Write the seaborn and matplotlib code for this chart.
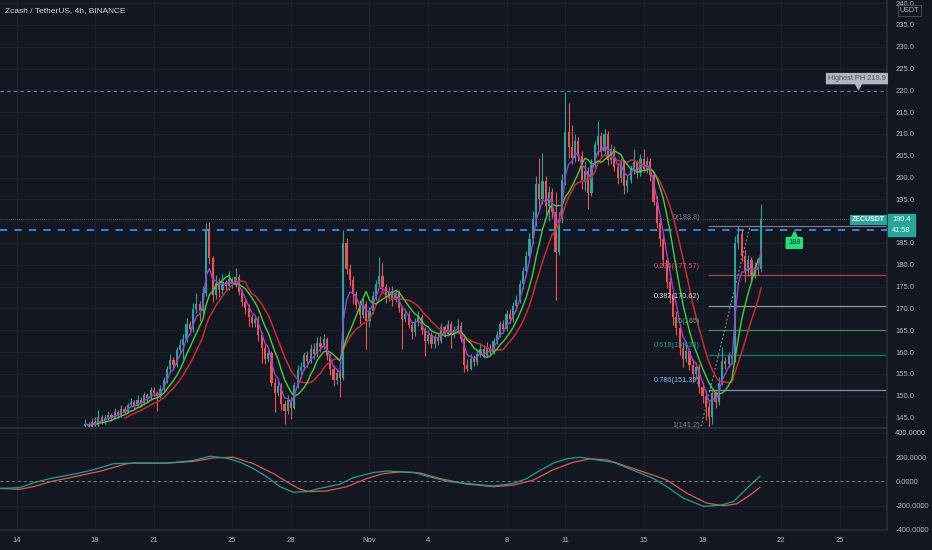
import numpy as np
import pandas as pd
import matplotlib.pyplot as plt
import seaborn as sns
from matplotlib.patches import Rectangle

# ---- chart data ----
title = "Zcash / TetherUS, 4h, BINANCE"
first_open = 143.0

# 4h closes, first bar = Oct 17 12:00
closes = [
    143.5, 142.8, 144.0, 143.2, 145.0, 144.1,
    144.8, 145.6, 144.9, 146.2, 145.5, 147.0,
    146.3, 147.8, 148.5, 147.6, 149.0, 148.2,
    150.1, 149.4, 151.2, 150.5, 149.8, 151.6,
    153.5, 156.0, 158.2, 157.0, 160.4, 161.5,
    163.0, 166.5, 165.2, 169.8, 171.0, 169.5,
    173.5, 188.0, 181.5, 173.0, 175.8, 174.2,
    176.0, 175.1, 176.8, 175.5, 177.2, 173.8,
    171.5, 170.2, 168.0, 166.6, 167.5, 164.0,
    161.0, 158.5, 159.8, 153.0, 150.6, 152.2,
    148.0, 146.5, 149.0, 147.2, 152.5, 155.8,
    156.5, 159.2, 158.0, 160.8, 159.5, 162.0,
    161.2, 163.0, 159.0, 156.0, 153.5, 155.2,
    154.0, 185.0, 179.0, 176.5, 173.2, 170.8,
    168.5, 171.0, 167.0, 169.5, 172.8, 175.5,
    177.5, 174.8, 172.5, 174.0, 172.0, 173.5,
    170.0, 167.5, 168.8, 166.2, 164.5, 166.8,
    168.0, 165.0, 162.5, 164.0, 161.8, 163.5,
    162.5, 165.8, 164.2, 166.5, 163.8, 165.0,
    166.0, 163.0, 157.0, 156.2, 158.5, 157.8,
    159.5, 160.8, 159.2, 161.0, 160.0, 162.5,
    164.0, 166.5, 165.2, 168.8, 167.5, 170.5,
    172.0, 175.5, 178.5, 182.0, 186.0, 190.5,
    198.5, 195.0, 199.2, 193.5, 196.8, 192.0,
    183.0, 190.5, 199.5, 210.5, 207.0, 204.5,
    208.5, 205.0, 199.0, 201.5, 196.5, 203.0,
    207.5, 209.5, 206.0, 210.0, 204.0, 206.5,
    202.5, 200.0, 203.5, 198.0, 199.5, 201.8,
    203.5, 201.0, 204.2, 202.0, 203.8, 200.5,
    194.5, 189.5, 186.0, 181.0, 176.0, 172.5,
    168.0, 165.5, 161.0, 158.5, 160.2, 157.0,
    155.0, 156.5, 152.0, 150.0, 147.5, 145.0,
    150.5, 148.5, 153.0, 158.0, 157.2, 159.0,
    158.5, 185.0, 187.0, 182.0, 178.5, 181.0,
    177.5, 179.5, 179.0, 190.4,
]
highs = [
    144.6, 144.0, 144.8, 145.2, 146.8, 145.6,
    145.5, 146.4, 146.0, 147.1, 146.8, 147.9,
    147.6, 148.4, 149.5, 149.0, 150.2, 149.6,
    150.9, 150.6, 152.0, 151.9, 151.0, 152.4,
    154.2, 156.8, 159.5, 158.9, 161.2, 163.0,
    164.2, 167.8, 167.0, 171.2, 173.5, 171.8,
    175.2, 189.6, 189.8, 182.0, 177.6, 177.0,
    177.8, 176.6, 178.5, 177.3, 179.3, 177.8,
    174.5, 172.4, 170.9, 168.8, 168.6, 168.2,
    164.6, 161.8, 160.5, 160.3, 154.0, 153.4,
    152.9, 149.0, 150.1, 149.6, 153.2, 157.0,
    157.6, 160.1, 160.2, 161.9, 162.0, 163.5,
    163.6, 164.2, 163.5, 159.6, 157.0, 156.0,
    156.1, 188.0, 186.2, 180.2, 177.4, 174.0,
    172.0, 172.3, 171.8, 170.4, 173.9, 176.6,
    181.9, 180.5, 175.6, 175.0, 175.2, 174.4,
    174.2, 170.6, 169.7, 169.5, 167.1, 167.9,
    169.4, 168.8, 165.7, 165.1, 164.6, 164.2,
    164.4, 166.7, 166.3, 167.4, 167.1, 165.9,
    167.5, 166.8, 163.6, 158.4, 159.6, 159.3,
    160.4, 161.9, 161.4, 162.3, 161.8, 163.1,
    164.9, 167.2, 167.4, 169.6, 169.9, 171.4,
    173.1, 176.4, 179.6, 183.1, 187.2, 192.4,
    200.4, 204.5, 205.6, 200.3, 198.0, 197.5,
    196.6, 192.2, 200.8, 219.6, 217.0, 212.0,
    210.1, 209.3, 206.2, 203.8, 202.4, 204.2,
    208.4, 213.0, 210.4, 211.2, 210.6, 207.6,
    207.2, 203.4, 204.6, 204.0, 200.6, 202.9,
    206.6, 204.1, 205.3, 206.5, 204.8, 204.6,
    201.2, 195.8, 190.7, 187.2, 182.0, 177.3,
    173.4, 169.3, 166.2, 162.3, 161.8, 161.0,
    158.3, 157.6, 157.2, 153.1, 151.2, 148.6,
    151.4, 151.0, 154.2, 161.2, 158.9, 160.1,
    160.3, 186.5, 188.8, 187.9, 183.4, 182.2,
    181.8, 180.6, 181.2, 194.0,
]
lows = [
    142.2, 141.8, 142.3, 142.7, 142.9, 143.6,
    143.6, 144.3, 144.2, 144.6, 144.9, 145.1,
    145.8, 146.0, 147.3, 147.0, 147.2, 147.5,
    147.9, 148.6, 149.0, 149.8, 146.5, 149.5,
    150.8, 153.0, 155.4, 155.9, 156.5, 159.7,
    158.5, 162.4, 164.1, 164.6, 168.9, 167.2,
    168.8, 172.9, 180.2, 171.5, 172.1, 172.5,
    173.4, 173.9, 174.2, 174.6, 174.8, 173.0,
    170.6, 168.8, 166.0, 165.8, 165.7, 162.5,
    157.5, 157.2, 157.8, 152.1, 146.2, 149.8,
    146.8, 143.5, 145.8, 144.6, 146.9, 151.7,
    154.0, 155.8, 156.6, 157.4, 158.4, 158.9,
    160.0, 160.6, 158.2, 154.8, 152.2, 152.6,
    149.7, 153.6, 177.9, 175.1, 171.0, 169.9,
    166.4, 167.9, 160.6, 165.8, 168.7, 171.9,
    174.6, 173.6, 171.2, 171.8, 170.6, 171.4,
    169.2, 160.6, 166.8, 165.4, 163.0, 163.6,
    165.9, 164.2, 159.0, 161.8, 160.9, 161.0,
    161.5, 162.0, 163.4, 163.6, 161.0, 163.2,
    164.3, 162.4, 155.4, 155.6, 155.8, 156.9,
    157.1, 158.9, 158.6, 158.8, 159.2, 159.6,
    161.8, 163.5, 164.3, 164.8, 166.6, 166.9,
    169.4, 171.2, 174.5, 177.6, 180.9, 184.8,
    189.0, 192.6, 194.0, 191.4, 190.0, 190.8,
    172.0, 182.2, 189.6, 198.4, 204.6, 203.2,
    203.6, 203.8, 197.4, 196.9, 192.8, 195.7,
    201.9, 205.1, 204.6, 205.0, 202.8, 203.1,
    201.4, 198.6, 199.1, 196.2, 196.8, 198.7,
    200.9, 199.8, 200.4, 201.2, 201.0, 199.2,
    193.6, 188.5, 184.4, 179.8, 174.6, 171.2,
    166.1, 163.8, 159.4, 156.6, 157.6, 155.9,
    153.2, 153.8, 150.6, 148.2, 144.4, 142.8,
    143.6, 147.2, 147.9, 152.4, 156.1, 156.6,
    157.3, 157.8, 183.6, 180.8, 176.1, 177.4,
    176.0, 176.9, 177.6, 178.4,
]

# lower pane oscillator (x in 4h bars from the first candle)
osc_fast_x = [-26.1, -20.0, -15.9, -10.8, -2.6, 2.5, 8.6, 14.7, 24.9, 33.1,
              38.2, 43.3, 47.4, 51.5, 55.6, 59.6, 63.7, 67.8, 71.9, 78.0,
              82.1, 88.2, 92.3, 96.4, 100.5, 104.6, 111.7, 116.8, 125.0, 131.1,
              135.2, 139.3, 143.3, 147.4, 151.5, 157.6, 161.7, 167.8, 174.0, 178.1,
              183.2, 189.3, 194.4, 198.5, 202.6, 206.6]
osc_fast = [-57, -51, -11, 24, 65, 97, 146, 151, 151, 173,
            208, 192, 159, 105, 38, -43, -89, -84, -57, -22,
            32, 73, 86, 80, 76, 43, -3, -16, -38, -16,
            24, 92, 151, 186, 200, 173, 159, 92, 24, -43,
            -138, -205, -197, -165, -57, 43]
osc_slow_x = [-26.1, -20.0, -15.9, -10.8, -2.6, 4.5, 12.7, 14.7, 24.9, 33.1,
              39.2, 45.3, 51.5, 57.6, 61.7, 65.8, 68.8, 73.9, 80.1, 86.2,
              91.3, 96.4, 102.5, 108.6, 116.8, 125.0, 131.1, 137.2, 143.3, 149.5,
              154.6, 159.7, 165.8, 174.0, 178.1, 184.2, 190.3, 195.4, 199.5, 203.6,
              206.6]
osc_slow = [-57, -65, -43, -3, 43, 84, 146, 151, 151, 165,
            194, 200, 146, 65, -3, -65, -84, -78, -43, 24,
            65, 78, 70, 24, -22, -43, -30, 11, 97, 159,
            186, 178, 124, 51, 11, -97, -178, -200, -184, -111,
            -49]

fib_ratios = ["0", "0.236", "0.382", "0.5", "0.618", "0.786", "1"]
fib_prices = [188.8, 177.57, 170.62, 165, 159.38, 151.39, 141.2]
fib_colors = ["#787b86", "#e0525a", "#c9d6c4", "#4caf50", "#14a08c", "#7fb3f0", "#787b86"]
fib_line_colors = ["#787b86", "#a8434a", "#9598a1", "#3f8f4f", "#0f7f70", "#7d93ad", "#787b86"]

date_labels = ["14", "18", "21", "25", "28", "Nov", "4", "8", "11", "15", "18", "22", "25"]
date_days = [0, 4, 7, 11, 14, 18, 21, 25, 28, 32, 35, 39, 42]   # days after Oct 14
first_bar_day = 3.5

resistance = 188.0
highest_ph = 219.9
last_price = 190.4
countdown = "41:58"

BG = "#131722"
GRID = "#1d212c"
TXT = "#b2b5be"
UP = "#26a69a"
DOWN = "#ef5350"

sns.set_theme(style="dark", rc={"axes.facecolor": BG, "figure.facecolor": BG,
                                "axes.edgecolor": "#2a2e39", "text.color": TXT,
                                "xtick.color": TXT, "ytick.color": TXT})
plt.rcParams["font.family"] = ["Liberation Sans", "DejaVu Sans"]

bars = pd.DataFrame({"close": closes, "high": highs, "low": lows})
bars["open"] = [first_open] + closes[:-1]
bars["i"] = np.arange(len(bars))
bars["ma_purple"] = bars["close"].ewm(span=4, adjust=False).mean()
bars["ma_green"] = bars["close"].rolling(8, min_periods=1).mean()
bars["ma_red"] = bars["close"].rolling(13, min_periods=13).mean()
up = bars["close"] >= bars["open"]
cols = np.where(up, UP, DOWN)

xmin, xmax = -26.13, 245.5

fig = plt.figure(figsize=(9.32, 5.5), dpi=100)
ax = fig.add_axes([0, 1 - 428 / 550, 887 / 932, 428 / 550])
ax2 = fig.add_axes([0, 1 - 530 / 550, 887 / 932, 100 / 550])

# ---- main pane ----
ax.vlines(bars["i"], bars["low"], bars["high"], colors=cols, lw=0.8, zorder=2)
body = (bars["close"] - bars["open"]).abs().clip(lower=0.25)
ax.bar(bars["i"], body, bottom=bars[["open", "close"]].min(axis=1),
       width=0.66, color=cols, zorder=2, linewidth=0)

sns.lineplot(data=bars, x="i", y="ma_red", ax=ax, color="#cc2b2b", lw=1.1, zorder=3)
sns.lineplot(data=bars, x="i", y="ma_green", ax=ax, color="#45d136", lw=1.0, zorder=4)
sns.lineplot(data=bars, x="i", y="ma_purple", ax=ax, color="#9b3fd0", lw=1.0, zorder=4)

ax.axhline(highest_ph, color="#5a7fb8", ls=(0, (3, 3)), lw=0.8, zorder=1)
ax.axhline(resistance, color="#3a8ee6", ls=(0, (4, 4)), lw=1.3, zorder=5)
ax.axhline(last_price, color="#6a6e78", ls=(0, (1, 1.5)), lw=0.6, zorder=1)

fib_x0 = 190.7
for r, p, c, lc in zip(fib_ratios, fib_prices, fib_colors, fib_line_colors):
    ax.hlines(p, fib_x0, xmax, colors=lc, lw=0.9, zorder=1)
    ax.text(188.3, p + 2.05, f"{r}({p:g})", color=c, fontsize=5.3,
            ha="right", va="center", zorder=6)
ax.plot([188.0, 203.5], [fib_prices[-1], fib_prices[0]], color="#9598a1",
        ls=(0, (2, 2)), lw=0.7, zorder=1)

# labels on the chart
ax.text(217.1, 185.0, f"{resistance:g}", color="#0d3d22", fontsize=5.3,
        ha="center", va="center", zorder=7,
        bbox=dict(boxstyle="round,pad=0.35,rounding_size=0.15", fc="#1fe07e", ec="none"))
ax.plot([217.1], [187.1], marker="^", ms=4, color="#1fe07e", zorder=7)
ax.text(236.3, 222.7, f"Highest PH {highest_ph}", color="#50535e", fontsize=5.3,
        ha="center", va="center", zorder=7,
        bbox=dict(boxstyle="round,pad=0.3,rounding_size=0.1", fc="#b2b5be", ec="none"))
ax.plot([236.6], [220.9], marker="v", ms=4, color="#b2b5be", zorder=7)
ax.text(239.9, 190.3, "ZECUSDT", color="white", fontsize=5.0, fontweight="bold",
        ha="center", va="center", zorder=7,
        bbox=dict(boxstyle="square,pad=0.25", fc=UP, ec="none"))

ax.set_xlim(xmin, xmax)
ax.set_ylim(142.57, 240.73)
ax.yaxis.tick_right()
ax.set_yticks(np.arange(145, 241, 5))
# the 190 label sits under the last-price tag
ax.yaxis.set_major_formatter(plt.FuncFormatter(lambda v, _: "" if abs(v - 190) < 0.1 else f"{v:.1f}"))
ax.tick_params(axis="y", length=0, pad=6, labelsize=5.5, labelcolor=TXT)
tick_x = [(d - first_bar_day) * 6 for d in date_days]
ax.set_xticks(tick_x)
ax.tick_params(axis="x", length=0, labelbottom=False)
ax.grid(True, color=GRID, lw=0.6)
ax.set_xlabel("")
ax.set_ylabel("")
for s in ["top", "left"]:
    ax.spines[s].set_visible(False)
ax.spines["right"].set_color("#2a2e39")
ax.spines["bottom"].set_color("#2a2e39")
ax.spines["bottom"].set_linewidth(1.5)

# ---- oscillator pane ----
sns.lineplot(x=osc_slow_x, y=osc_slow, ax=ax2, color="#dd5a4e", lw=0.9)
sns.lineplot(x=osc_fast_x, y=osc_fast, ax=ax2, color="#1fa08c", lw=0.9)
ax2.axhline(0, color="#787b86", ls=(0, (3, 3)), lw=0.7)
ax2.set_xlim(xmin, xmax)
ax2.set_ylim(-400, 424)
ax2.yaxis.tick_right()
ax2.set_yticks([-400, -200, 0, 200, 400])
ax2.yaxis.set_major_formatter(plt.FormatStrFormatter("%.4f"))
ax2.tick_params(axis="y", length=0, pad=6, labelsize=5.5, labelcolor=TXT)
ax2.set_xticks(tick_x)
ax2.set_xticklabels(date_labels)
ax2.tick_params(axis="x", length=0, pad=5, labelsize=5.5, labelcolor=TXT)
ax2.grid(True, color=GRID, lw=0.6)
ax2.set_xlabel("")
ax2.set_ylabel("")
for s in ["top", "left"]:
    ax2.spines[s].set_visible(False)
ax2.spines["right"].set_color("#2a2e39")
ax2.spines["bottom"].set_color("#2a2e39")

# ---- figure level labels ----
fig.text(5 / 932, 1 - 11 / 550, title, color="#d1d4dc", fontsize=6.0, va="center")
fig.patches.append(Rectangle((888 / 932, 1 - 236 / 550), 27 / 932, 22 / 550,
                             transform=fig.transFigure, color=UP, zorder=5))
fig.text(901.5 / 932, 1 - 219.5 / 550, f"{last_price}", color="white", fontsize=5.3,
         ha="center", va="center", zorder=6)
fig.text(901.5 / 932, 1 - 230.5 / 550, countdown, color="white", fontsize=5.3,
         ha="center", va="center", zorder=6)
fig.text(909.5 / 932, 1 - 10.5 / 550, "USDT", color=TXT, fontsize=5.2,
         ha="center", va="center", zorder=6,
         bbox=dict(boxstyle="square,pad=0.25", fc=BG, ec="#50535e", lw=0.6))

fig.savefig("out.png", dpi=100, facecolor=BG)
